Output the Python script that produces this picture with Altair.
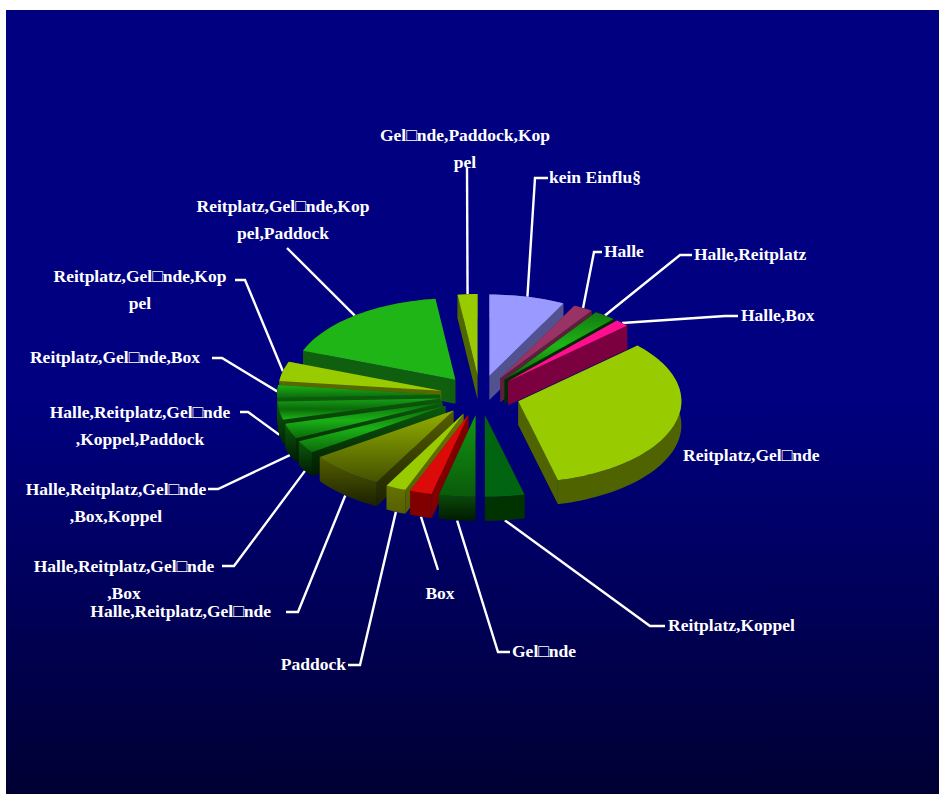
import math
import altair as alt

W, H = 939, 794

# Survey answers, in drawing order (clockwise from twelve o'clock), as percent of replies
categories = [
    "kein Einflu§", "Halle", "Halle,Reitplatz", "Halle,Box", "Reitplatz,Gel□nde",
    "Reitplatz,Koppel", "Gel□nde", "Box", "Paddock", "Halle,Reitplatz,Gel□nde",
    "Halle,Reitplatz,Gel□nde\n,Box", "Halle,Reitplatz,Gel□nde\n,Box,Koppel",
    "Halle,Reitplatz,Gel□nde\n,Koppel,Paddock", "Reitplatz,Gel□nde,Box",
    "Reitplatz,Gel□nde,Kop\npel", "Reitplatz,Gel□nde,Kop\npel,Paddock",
    "Gel□nde,Paddock,Kop\npel",
]
shares = [7.5, 1.95, 2.2, 1.4, 33.05, 3.9, 3.6, 2.2, 2.0, 7.5, 2.5, 3.0, 3.6, 2.5, 3.9, 17.25, 1.95]

# Top-face and side-face paints, one pair per slice; a pair of colours is a vertical ramp
top_paint = [
    "#9999ff", "#993366", ("#127a12", "#1fb516", "#0a5a0a"), "#ff0f8f", "#99cc00",
    "#006411", ("#129612", "#0a5a0a"), "#dd0a0a", "#99cc00", ("#93b000", "#445000"),
    ("#0a6a0a", "#1bb016", "#0a6a0a"), ("#0a6a0a", "#1bb016", "#0a6a0a"),
    ("#18a016", "#0a6a0a", "#1fb516"), ("#1bb016", "#0c6a0c"),
    "#99cc00", "#1fb516", "#99cc00",
]
side_paint = [
    "#525290", "#5c1f3e", "#002a00", "#7a003f", "#4f6400",
    "#003300", ("#0a4a0a", "#001a00"), "#800000", ("#667400", "#555e00"), ("#565f00", "#1a2000"),
    ("#0c5a0c", "#001a00"), ("#0c5a0c", "#001a00"), ("#0c5a0c", "#002a00"), "#0c5a0c",
    "#5a6600", "#0f5f0f", "#506600",
]

# Label anchors on the canvas: x, y, text alignment
label_x = [549, 604, 694, 741, 683, 668, 512, 440, 346, 271, 124, 116, 140, 200, 140, 283, 465]
label_y = [178, 252, 255, 316, 456, 626, 652, 594, 665, 612, 567, 490, 413, 358, 277, 207, 136]
label_align = ["left", "left", "left", "left", "left", "left", "left", "center", "right", "right",
               "center", "center", "center", "right", "center", "center", "center"]
# Where each leader leaves its label (x, y) and the length of its horizontal stub
leader_x = [548, 602, 692, 738, None, 665, 510, 438, 348, 286, 222, 208, 240, 212, 235, 287, 467]
leader_y = [178, 252, 255, 316, None, 626, 652, 570, 665, 612, 566, 489, 412, 358, 280, 248, 168]
leader_stub = [-13, -8, -12, -13, 0, -15, -12, 0, 12, 12, 12, 10, 8, 10, 10, 0, 0]

# Pie geometry in unit-radius coordinates
RADIUS_PX = 163
CENTER_PX = (480, 395.5)
TILT = 0.5
EXPLODE = 40 / RADIUS_PX
DEPTH = 24 / RADIUS_PX

projection = alt.Projection(type="identity", reflectY=True, scale=RADIUS_PX,
                            translate=list(CENTER_PX))


def paint(p):
    """Flat colour or a top-to-bottom gradient."""
    if isinstance(p, str):
        return p
    stops = [alt.GradientStop(offset=i / (len(p) - 1), color=c) for i, c in enumerate(p)]
    return alt.LinearGradient(gradient="linear", x1=0, x2=0, y1=0, y2=1, stops=stops)


def shape(points, fill):
    ring = [list(pt) for pt in points] + [list(points[0])]
    feature = {"type": "Feature", "properties": {},
               "geometry": {"type": "Polygon", "coordinates": [ring]}}
    return alt.Chart(alt.Data(values=[feature])).mark_geoshape(
        fill=paint(fill), stroke=None, strokeWidth=0
    ).project(**projection.to_dict())


total = sum(shares)
slices = []
start = 0.0
for i, share in enumerate(shares):
    end = start + share / total * 2 * math.pi
    slices.append((i, start, end))
    start = end


def rim_point(a, ox, oy, r=1.0, drop=0.0):
    return (ox + r * math.sin(a), oy + TILT * r * math.cos(a) - drop)


def slice_layers(i, a0, a1):
    mid = (a0 + a1) / 2
    ox, oy = EXPLODE * math.sin(mid), TILT * EXPLODE * math.cos(mid)
    n = max(3, int((a1 - a0) / 0.03))
    arc = [a0 + (a1 - a0) * k / n for k in range(n + 1)]
    top = [(ox, oy)] + [rim_point(a, ox, oy) for a in arc]

    walls = []
    for a in (a0, a1):
        e = rim_point(a, ox, oy)
        walls.append([(ox, oy), e, (e[0], e[1] - DEPTH), (ox, oy - DEPTH)])
    walls.append([rim_point(a, ox, oy) for a in arc]
                 + [rim_point(a, ox, oy, drop=DEPTH) for a in reversed(arc)])
    # Far walls go first so that the near ones cover them
    walls.sort(key=lambda w: -sum(p[1] for p in w) / len(w))
    return [shape(w, side_paint[i]) for w in walls] + [shape(top, top_paint[i])]


# Paint the slices from the back of the pie to the front
ordered = sorted(slices, key=lambda s: -math.cos((s[1] + s[2]) / 2))
pie_layers = [layer for s in ordered for layer in slice_layers(*s)]

# Leader lines run from the rim of each slice to its label
leader_rows = []
for i, a0, a1 in slices:
    if leader_x[i] is None:
        continue
    mid = (a0 + a1) / 2
    ex = RADIUS_PX * (1 + EXPLODE) * math.sin(mid)
    ey = RADIUS_PX * TILT * (1 + EXPLODE) * math.cos(mid)
    depth_px = DEPTH * RADIUS_PX if math.cos(mid) < 0 else 0
    pts = [(CENTER_PX[0] + ex, CENTER_PX[1] - ey + depth_px)]
    if leader_stub[i]:
        pts.append((leader_x[i] + leader_stub[i], leader_y[i]))
    pts.append((leader_x[i], leader_y[i]))
    for k, (px, py) in enumerate(pts):
        leader_rows.append({"slice": categories[i], "k": k, "px": px, "py": py})

x_scale = alt.Scale(domain=[0, W], range=[0, W], nice=False, zero=False)
y_scale = alt.Scale(domain=[0, H], range=[0, H], nice=False, zero=False)
x_enc = alt.X("px:Q", scale=x_scale, axis=None)
y_enc = alt.Y("py:Q", scale=y_scale, axis=None)

panel = alt.Chart(alt.Data(values=[{"px": 6, "px2": W, "py": 10, "py2": H}])).mark_rect(
    fill=alt.LinearGradient(
        gradient="linear", x1=0, x2=0, y1=0, y2=1,
        stops=[alt.GradientStop(offset=0, color="#000080"),
               alt.GradientStop(offset=0.5, color="#000080"),
               alt.GradientStop(offset=1, color="#000033")],
    )
).encode(x=x_enc, x2="px2:Q", y=y_enc, y2="py2:Q")

leaders = alt.Chart(alt.Data(values=leader_rows)).mark_line(
    color="white", strokeWidth=2.4, strokeJoin="miter"
).encode(x=x_enc, y=y_enc, detail="slice:N", order="k:Q")

label_layers = []
for align in ("left", "center", "right"):
    rows = [{"label": categories[i], "px": label_x[i], "py": label_y[i]}
            for i in range(len(categories)) if label_align[i] == align]
    label_layers.append(
        alt.Chart(alt.Data(values=rows)).mark_text(
            font="Liberation Sans Narrow", fontWeight="bold", fontSize=17.5, color="white",
            align=align, baseline="middle", lineBreak="\n", lineHeight=27,
        ).encode(x=x_enc, y=y_enc, text="label:N")
    )

chart = alt.layer(panel, leaders, *pie_layers, *label_layers).properties(
    width=W, height=H, padding=0, background="white",
    autosize=alt.AutoSizeParams(type="none"),
).configure_view(stroke=None)

chart.save("out.html", embed_options={"renderer": "svg", "actions": False})
